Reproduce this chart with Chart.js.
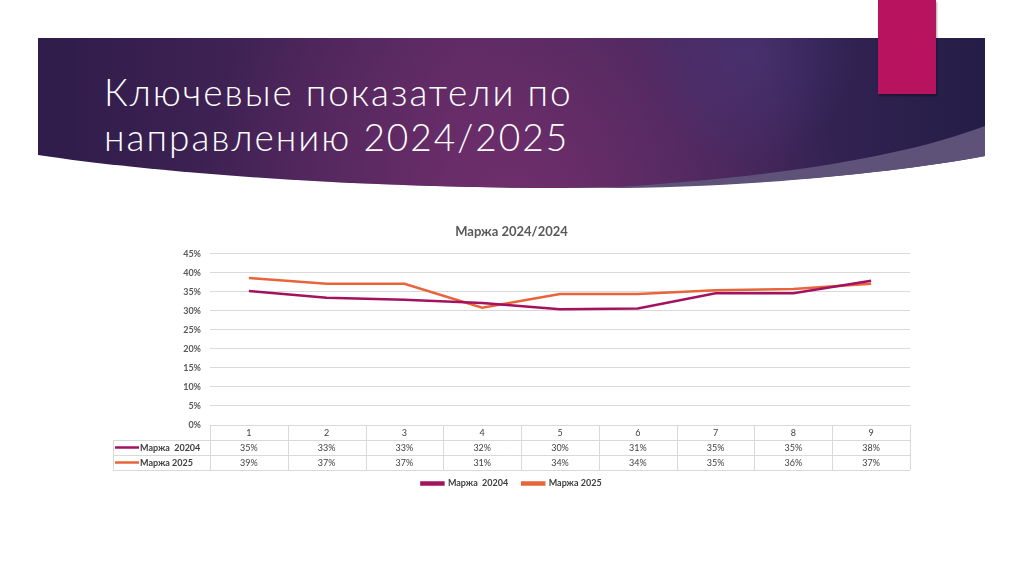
<!DOCTYPE html>
<html>
<head>
<meta charset="utf-8">
<script src="https://cdn.jsdelivr.net/npm/chart.js@4.4.1/dist/chart.umd.min.js"></script>
<style>
  html, body { margin: 0; padding: 0; background: #fff; }
  body { width: 1024px; height: 574px; position: relative; overflow: hidden; font-family: Lato, "Noto Sans", sans-serif; }
  #banner { position: absolute; left: 0; top: 0; }
  #slideTitle {
    position: absolute; left: 104px; top: 69px;
    color: #fff; font-family: Lato, "Noto Sans", sans-serif; font-weight: 300;
    font-size: 37px; line-height: 45px; letter-spacing: 2px;
  }
  #tab { position: absolute; left: 878px; top: 0; width: 58px; height: 94px; background: #b8135f;
         box-shadow: 1px 2px 2px rgba(0,0,0,0.35); }
  #wrap { position: absolute; left: 105px; top: 212px; width: 815px; height: 290px; }
</style>
</head>
<body>
<svg id="banner" width="1024" height="200">
  <defs>
    <linearGradient id="base" x1="0" y1="0" x2="1" y2="0">
      <stop offset="0" stop-color="#2e1c4a"/>
      <stop offset="0.45" stop-color="#532960"/>
      <stop offset="0.75" stop-color="#3a2558"/>
      <stop offset="1" stop-color="#241d47"/>
    </linearGradient>
    <radialGradient id="glow" cx="520" cy="200" r="320" gradientUnits="userSpaceOnUse">
      <stop offset="0" stop-color="#7a3070" stop-opacity="0.75"/>
      <stop offset="1" stop-color="#7a3070" stop-opacity="0"/>
    </radialGradient>
    <radialGradient id="blue" cx="745" cy="55" r="110" gradientUnits="userSpaceOnUse">
      <stop offset="0" stop-color="#4b3577" stop-opacity="0.7"/>
      <stop offset="1" stop-color="#4b3577" stop-opacity="0"/>
    </radialGradient>
  </defs>
  <path d="M38,38 L985,38 L985,156 C900,172 750,188 560,188 C350,188 150,172 38,155 Z" fill="url(#base)"/>
  <path d="M38,38 L985,38 L985,156 C900,172 750,188 560,188 C350,188 150,172 38,155 Z" fill="url(#glow)"/>
  <path d="M38,38 L985,38 L985,156 C900,172 750,188 560,188 C350,188 150,172 38,155 Z" fill="url(#blue)"/>
  <path d="M985,126 C900,158 770,178 600,188 C750,188 900,172 985,156 Z" fill="#5e5279"/>
</svg>
<div id="tab"></div>
<div id="slideTitle">Ключевые показатели по<br>направлению 2024/2025</div>
<div id="wrap"><canvas id="chart"></canvas></div>
<script>
// categories and series
var periods = ['1', '2', '3', '4', '5', '6', '7', '8', '9'];
var marg2024 = [0.352, 0.334, 0.329, 0.320, 0.304, 0.306, 0.346, 0.346, 0.379];
var marg2025 = [0.386, 0.371, 0.371, 0.308, 0.344, 0.344, 0.354, 0.357, 0.371];
var seriesNames = ['Маржа  20204', 'Маржа 2025'];
var seriesColors = ['#a3125f', '#e8643a'];
var yTicks = [0, 0.05, 0.10, 0.15, 0.20, 0.25, 0.30, 0.35, 0.40, 0.45];

var pct = function (v) { return Math.round(v * 100) + '%'; };

// excel-like data table under the plot, placed on the x scale columns
var dataTable = {
  id: 'dataTable',
  afterDraw: function (chart) {
    var ctx = chart.ctx, x = chart.scales.x, area = chart.chartArea;
    var rowH = 15, top = area.bottom, left = chart.options.layout.padding.left;
    var step = x.getPixelForValue(1) - x.getPixelForValue(0);
    var rows = [chart.data.datasets[0], chart.data.datasets[1]];
    ctx.save();
    ctx.strokeStyle = '#d9d9d9';
    ctx.lineWidth = 1;
    ctx.beginPath();
    // horizontal lines
    ctx.moveTo(area.left, top + 0.5); ctx.lineTo(area.right, top + 0.5);
    for (var r = 1; r <= 3; r++) {
      ctx.moveTo(left, top + r * rowH + 0.5); ctx.lineTo(area.right, top + r * rowH + 0.5);
    }
    // vertical lines
    ctx.moveTo(left + 0.5, top + rowH); ctx.lineTo(left + 0.5, top + 3 * rowH);
    for (var i = 0; i <= periods.length; i++) {
      var cx = Math.round(x.getPixelForValue(i) - step / 2) + 0.5;
      ctx.moveTo(cx, top); ctx.lineTo(cx, top + 3 * rowH);
    }
    ctx.stroke();

    ctx.font = '9px Lato, "Noto Sans", sans-serif';
    ctx.fillStyle = '#404040';
    ctx.textAlign = 'center';
    ctx.textBaseline = 'middle';
    periods.forEach(function (p, k) {
      ctx.fillText(p, x.getPixelForValue(k), top + rowH / 2 + 1);
    });
    rows.forEach(function (ds, j) {
      var y = top + (j + 1) * rowH + rowH / 2 + 1;
      ds.data.forEach(function (v, k) {
        ctx.fillText(pct(v), x.getPixelForValue(k), y);
      });
      ctx.strokeStyle = ds.borderColor;
      ctx.lineWidth = 2.5;
      ctx.beginPath();
      ctx.moveTo(left + 2, y - 1); ctx.lineTo(left + 26, y - 1);
      ctx.stroke();
      ctx.save();
      ctx.textAlign = 'left';
      ctx.font = 'bold 9px Lato, "Noto Sans", sans-serif';
      ctx.fillText(ds.label, left + 27, y);
      ctx.restore();
    });
    ctx.restore();
  }
};

new Chart(document.getElementById('chart'), {
  type: 'line',
  data: {
    labels: periods,
    datasets: [
      { label: seriesNames[0], data: marg2024, borderColor: seriesColors[0], backgroundColor: seriesColors[0],
        borderWidth: 2.5, pointRadius: 0, tension: 0 },
      { label: seriesNames[1], data: marg2025, borderColor: seriesColors[1], backgroundColor: seriesColors[1],
        borderWidth: 2.5, pointRadius: 0, tension: 0 }
    ]
  },
  options: {
    responsive: true,
    maintainAspectRatio: false,
    animation: false,
    layout: { padding: { left: 8, right: 10, top: 0, bottom: 4 } },
    plugins: {
      title: {
        display: true, text: 'Маржа 2024/2024', color: '#595959',
        font: { family: 'Lato, "Noto Sans", sans-serif', size: 13, weight: 'bold' },
        padding: { top: 12, bottom: 14 }
      },
      legend: {
        position: 'bottom',
        labels: {
          color: '#404040', boxWidth: 22, boxHeight: 2, padding: 14,
          font: { family: 'Lato, "Noto Sans", sans-serif', size: 9, weight: 'bold' }
        }
      },
      tooltip: { enabled: false }
    },
    scales: {
      x: {
        offset: true,
        grid: { display: false },
        border: { display: false },
        ticks: { display: false },
        afterFit: function (s) { s.height = 40; }
      },
      y: {
        min: 0, max: 0.45,
        afterBuildTicks: function (s) { s.ticks = yTicks.map(function (v) { return { value: v }; }); },
        grid: { color: '#d9d9d9', drawTicks: false },
        border: { display: false },
        ticks: {
          color: '#595959', padding: 9,
          font: { family: 'Lato, "Noto Sans", sans-serif', size: 9, weight: 'bold' },
          callback: function (v) { return pct(v); }
        },
        afterFit: function (s) { s.width = 97; }
      }
    }
  },
  plugins: [dataTable]
});
</script>
</body>
</html>
